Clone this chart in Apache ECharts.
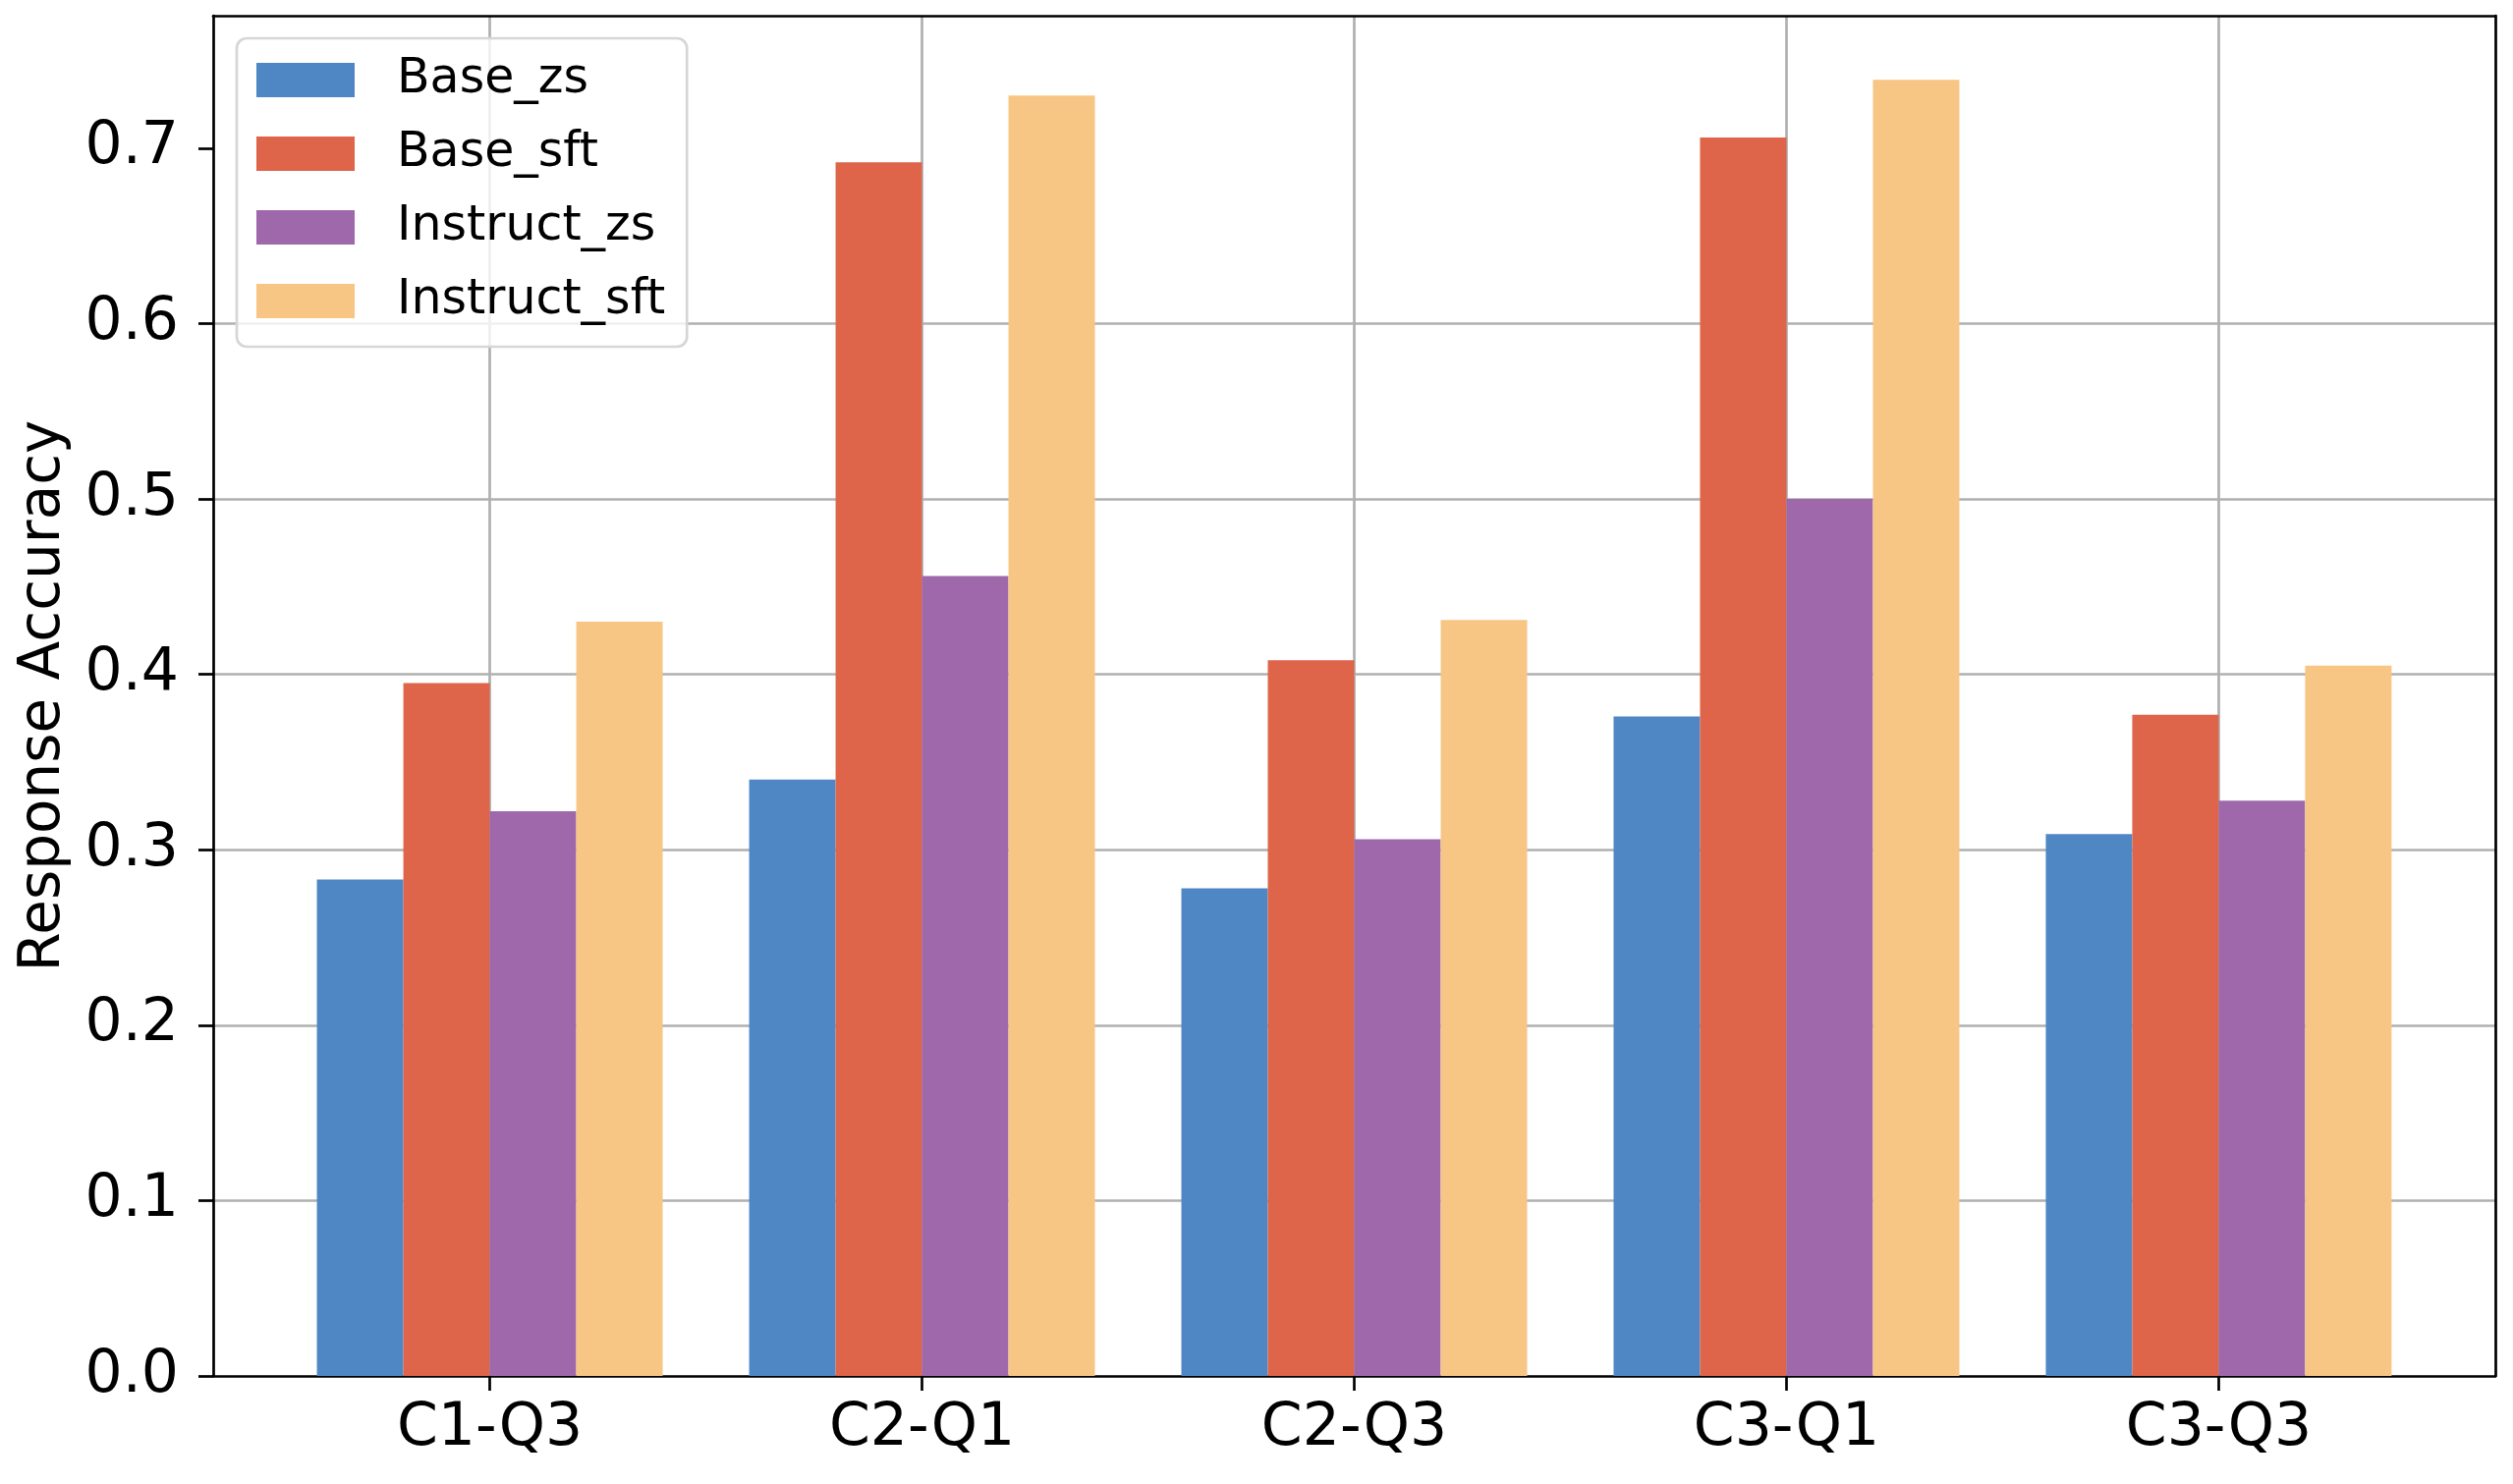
<!DOCTYPE html>
<html>
<head>
<meta charset="utf-8">
<script src="https://cdn.jsdelivr.net/npm/echarts@6/dist/echarts.min.js"></script>
<style>
html,body{margin:0;padding:0;background:#fff;}
#chart{width:2558px;height:1511px;}
</style>
</head>
<body>
<div id="chart"></div>
<script>
const categories = ['C1-Q3', 'C2-Q1', 'C2-Q3', 'C3-Q1', 'C3-Q3'];
const seriesNames = ['Base_zs', 'Base_sft', 'Instruct_zs', 'Instruct_sft'];
const baseZs = [0.283, 0.340, 0.278, 0.376, 0.309];
const baseSft = [0.395, 0.692, 0.408, 0.706, 0.377];
const instructZs = [0.322, 0.456, 0.306, 0.500, 0.328];
const instructSft = [0.430, 0.730, 0.431, 0.739, 0.405];
const yTicks = [0.0, 0.1, 0.2, 0.3, 0.4, 0.5, 0.6, 0.7];
const xTicks = [0, 1, 2, 3, 4];
const colors = ['#4F87C5', '#DE644A', '#9E68AB', '#F7C685'];

const seriesValues = [baseZs, baseSft, instructZs, instructSft];
const FONT = 'DejaVu Sans';
const LW = 2.7;

const chart = echarts.init(document.getElementById('chart'), null, {renderer: 'canvas'});
const option = {
  animation: false,
  backgroundColor: '#fff',
  textStyle: {fontFamily: FONT},
  grid: {left: 217, right: 18, top: 16, bottom: 110, containLabel: false},
  legend: {
    orient: 'vertical',
    left: 241, top: 39,
    padding: [18, 22, 22, 20],
    itemWidth: 100, itemHeight: 35, itemGap: 26,
    icon: 'rect',
    backgroundColor: 'rgba(255,255,255,0.8)',
    borderColor: '#d6d6d6', borderWidth: LW, borderRadius: 10,
    textStyle: {fontFamily: FONT, fontSize: 49, color: '#000', padding: [0, 0, 0, 38]},
    selectedMode: false,
    data: seriesNames
  },
  xAxis: [{
    type: 'value', min: -0.64, max: 4.64,
    axisLine: {show: true, onZero: false, lineStyle: {color: '#000', width: LW}},
    axisTick: {show: true, length: 15, customValues: xTicks, lineStyle: {color: '#000', width: LW}},
    axisLabel: {show: true, customValues: xTicks, margin: 24, fontSize: 60, fontFamily: FONT, color: '#000',
      formatter: v => categories[Math.round(v)]},
    splitLine: {show: true, showMinLine: true, showMaxLine: true, lineStyle: {color: '#b0b0b0', width: LW}}
  }, {
    type: 'value', position: 'top', min: -0.64, max: 4.64,
    axisLine: {show: true, onZero: false, lineStyle: {color: '#000', width: LW}},
    axisTick: {show: false}, axisLabel: {show: false}, splitLine: {show: false}
  }],
  yAxis: [{
    type: 'value', min: 0, max: 0.7755, interval: 0.1,
    name: 'Response Accuracy', nameLocation: 'middle', nameGap: 143,
    nameTextStyle: {fontSize: 58, fontFamily: FONT, color: '#000'},
    axisLine: {show: true, onZero: false, lineStyle: {color: '#000', width: LW}},
    axisTick: {show: true, length: 15, customValues: yTicks, lineStyle: {color: '#000', width: LW}},
    axisLabel: {show: true, customValues: yTicks, margin: 35, fontSize: 60, fontFamily: FONT, color: '#000',
      formatter: v => v.toFixed(1)},
    splitLine: {show: true, showMinLine: false, showMaxLine: false, lineStyle: {color: '#b0b0b0', width: LW}}
  }, {
    type: 'value', position: 'right', min: 0, max: 0.7755,
    axisLine: {show: true, onZero: false, lineStyle: {color: '#000', width: LW}},
    axisTick: {show: false}, axisLabel: {show: false}, splitLine: {show: false}
  }],
  series: seriesValues.map((vals, s) => ({
    name: seriesNames[s],
    type: 'bar',
    xAxisIndex: 0, yAxisIndex: 0,
    barGap: '0%', barCategoryGap: '20%',
    itemStyle: {color: colors[s]},
    emphasis: {disabled: true},
    silent: true,
    data: vals.map((v, i) => [i, v])
  }))
};
chart.setOption(option);
</script>
</body>
</html>
